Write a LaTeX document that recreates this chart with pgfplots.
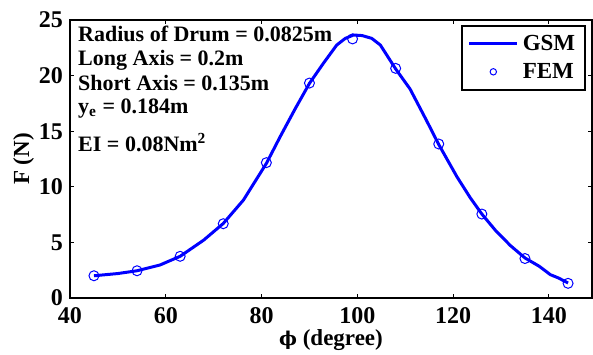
\documentclass[border=0pt]{standalone}
\usepackage{pgfplots}
\pgfplotsset{compat=1.18}
\usepackage{fontspec}
\setmainfont{Liberation Serif}
\newfontfamily\dvs{DejaVu Serif}
\tikzset{ann/.style={anchor=base west, inner sep=0pt, font=\bfseries\fontsize{11}{13}\selectfont}}
\begin{document}
\begin{tikzpicture}
\path[use as bounding box] (0pt,0pt) rectangle (296.5pt,177pt);
\begin{axis}[
  at={(35pt,28pt)}, anchor=south west,
  scale only axis, width=261pt, height=139pt,
  xmin=40, xmax=149, ymin=0, ymax=25,
  xtick={40,60,...,140}, ytick={0,5,...,25},
  tick align=inside, major tick length=2pt,
  axis line style={line width=0.8pt},
  tick style={black, line width=0.5pt},
  /pgf/number format/assume math mode=true,
  tick label style={font=\bfseries\fontsize{12}{14}\selectfont},
  xticklabel style={yshift=-1.2pt},
  xlabel={{\dvs\bfseries\fontsize{9.5}{11}\selectfont ϕ} (degree)}, ylabel={F (N)},
  label style={font=\bfseries\fontsize{11.5}{13}\selectfont},
  ylabel style={at={(-0.089,0.5)}, anchor=center},
  xlabel style={at={(0.5,-0.15)}, anchor=center},
  legend style={at={(0.9885,0.982)}, anchor=north east,
    font=\bfseries\fontsize{11.5}{13}\selectfont, draw=black, line width=0.8pt},
  legend cell align=left,
]
\addplot[blue, line width=1.5pt,
  legend image code/.code={\draw[blue, line width=1.5pt] (0pt,0pt) -- (24pt,0pt);}]
 coordinates {
 (45,2.0) (50,2.2) (54,2.45) (58.8,2.97) (63,3.75) (67.9,5.2) (72,6.7) (76.2,8.8)
 (81,12.1) (84,14.6) (87,17.0) (90,19.3) (92.9,21.1) (95.7,22.75) (97.5,23.35)
 (99.2,23.65) (101,23.6) (103,23.35) (104.8,22.75) (108,20.6) (111,18.8) (114.4,16.0)
 (117,13.8) (120.8,10.9) (123.6,9.0) (126,7.55) (129,6.0) (132,4.7) (135,3.6)
 (138,2.85) (140.3,2.1) (142,1.8) (144,1.35)
 };
\addlegendentry{\rule[-2.5pt]{0pt}{11pt}GSM}
\addplot[only marks, mark=o, blue, mark size=2.5pt, mark options={line width=0.5pt},
  legend image code/.code={\path[draw=none, fill=none] (0pt,0pt) rectangle (24pt,0pt); \draw[blue, line width=0.5pt, fill=none] (12pt,0pt) circle (1.6pt);}]
 coordinates {
 (45,2.0) (54,2.45) (63,3.75) (72,6.68) (81,12.17) (90,19.33) (99,23.3)
 (108,20.65) (117,13.85) (126,7.55) (135,3.55) (144,1.32)
 };
\addlegendentry{\rule[-2.5pt]{0pt}{11pt}FEM}
\node[ann] at (rel axis cs:0.015,0.922) {Radius of Drum = 0.0825m};
\node[ann] at (rel axis cs:0.015,0.836) {Long Axis = 0.2m};
\node[ann] at (rel axis cs:0.015,0.746) {Short Axis = 0.135m};
\node[ann] at (rel axis cs:0.015,0.665) {y\textsubscript{e} = 0.184m};
\node[ann] at (rel axis cs:0.015,0.526) {EI = 0.08Nm\textsuperscript{2}};
\end{axis}
\end{tikzpicture}
\end{document}
